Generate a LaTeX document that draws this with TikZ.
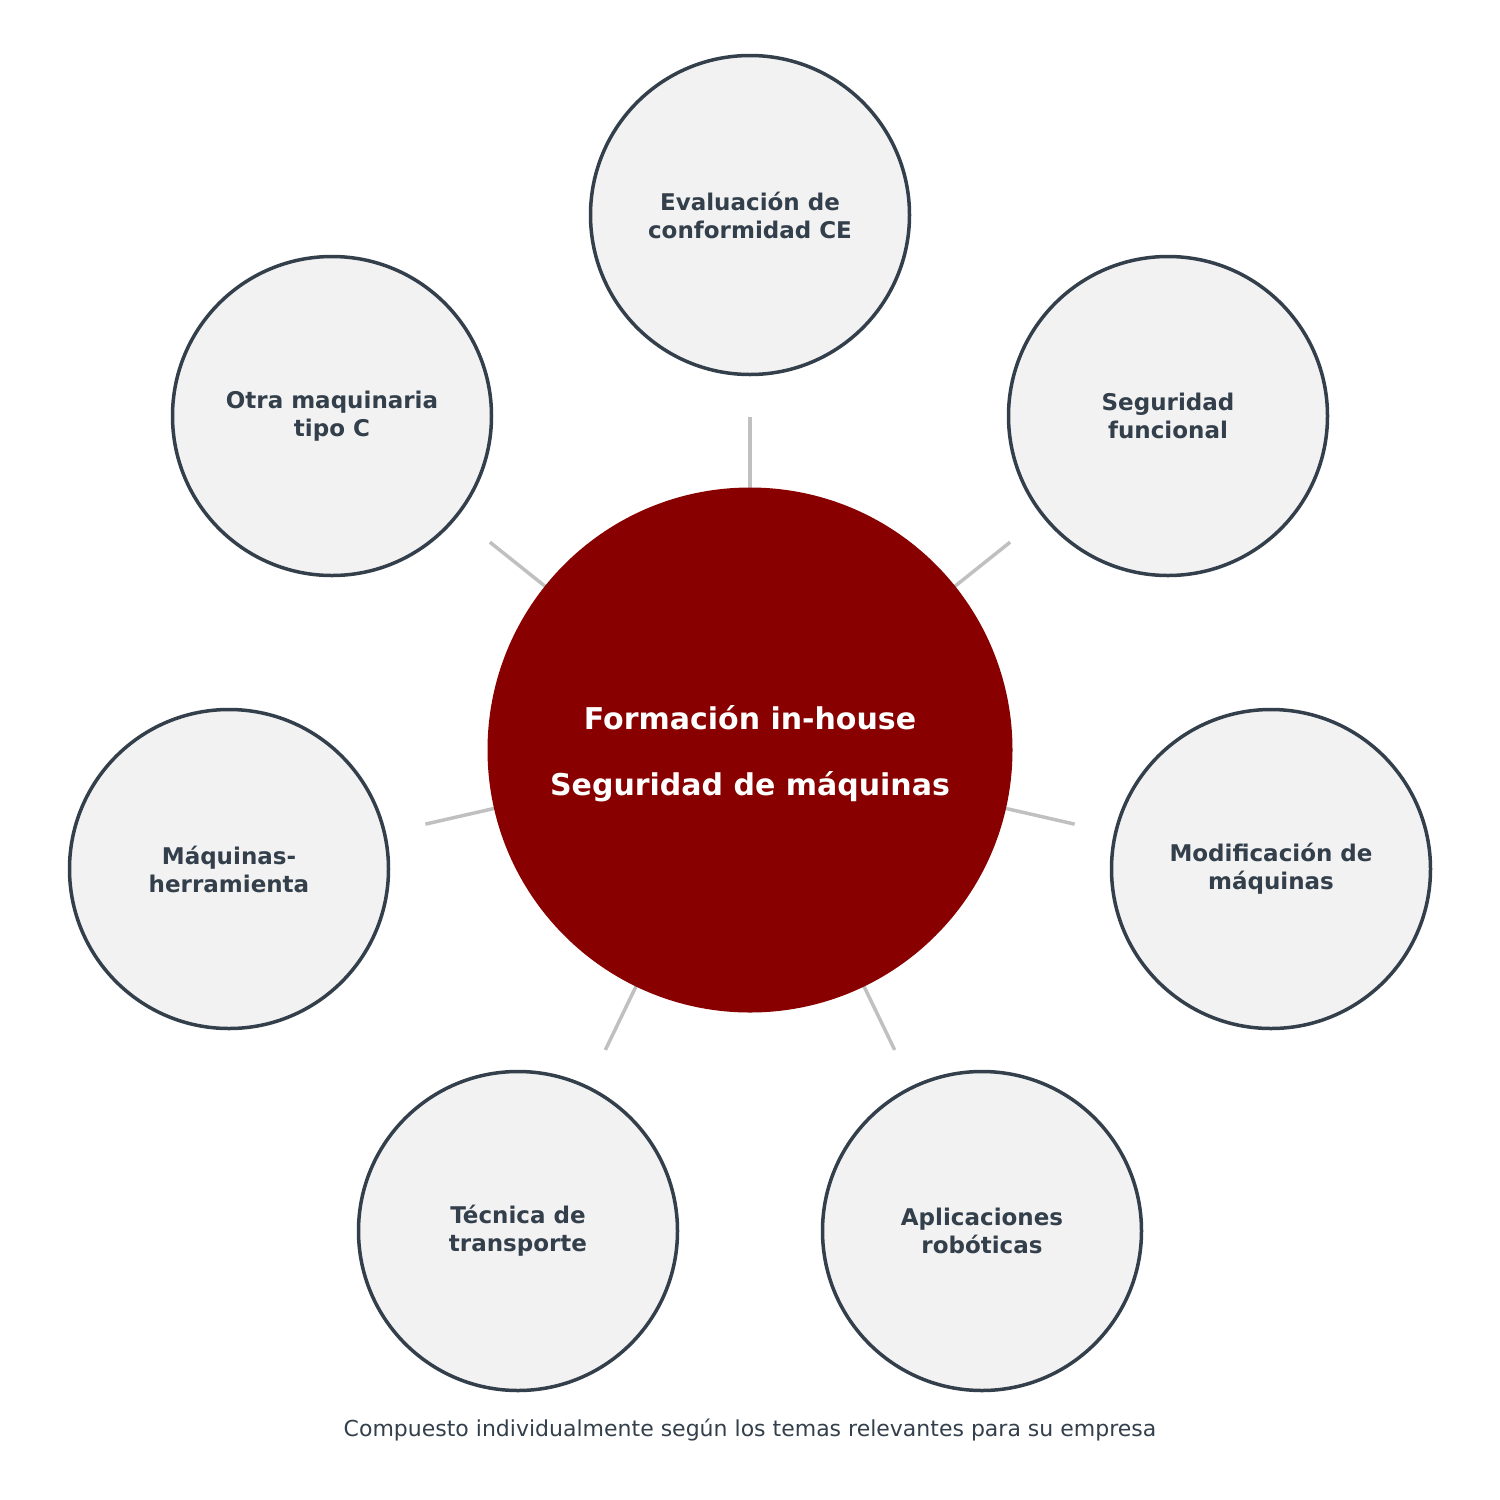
\documentclass[tikz,border=0pt]{standalone}
\usepackage{fontspec}
\setmainfont{DejaVu Sans}
\usetikzlibrary{calc}
\begin{document}
\begin{tikzpicture}[x=1pt,y=-1pt,
  outer/.style={circle,draw=dark,line width=3.5pt,fill=light,minimum size=319pt,inner sep=0pt,align=center,text=dark,font=\fontsize{23}{28}\selectfont\bfseries},
  conn/.style={draw=conn,line width=3.5pt}]
\definecolor{dark}{HTML}{333F4B}
\definecolor{light}{HTML}{F2F2F2}
\definecolor{conn}{HTML}{C0C0C0}
\definecolor{red}{HTML}{880000}
\useasboundingbox (0,0) rectangle (1500,1500);
\coordinate (c) at (750,750);
\foreach \n/\x/\y in {a/750/215,b/1168/416,d/1271/869,e/982/1231,f/518/1231,g/229/869,h/332/416}{
  \coordinate (p\n) at (\x,\y);
  \draw[conn] ($(c)!250pt!(p\n)$) -- ($(c)!333pt!(p\n)$);
}
\node[circle,fill=red,minimum size=525pt,inner sep=0pt] (center) at (c) {};
\node[text=white,font=\fontsize{30}{36}\selectfont\bfseries] (t1) at (750,718) {Formación in-house};
\node[text=white,font=\fontsize{30}{36}\selectfont\bfseries] (t2) at (750,787) {Seguridad de máquinas};
\node[outer] (a) at (pa) {Evaluación de\\conformidad CE};
\node[outer] (b) at (pb) {Seguridad\\funcional};
\node[outer] (d) at (pd) {Modificación de\\máquinas};
\node[outer] (e) at (pe) {Aplicaciones\\robóticas};
\node[outer] (f) at (pf) {Técnica de\\transporte};
\node[outer] (g) at (pg) {Máquinas-\\herramienta};
\node[outer] (h) at (ph) {Otra maquinaria\\tipo C};
\node[text=dark,font=\fontsize{22}{26}\selectfont] (cap) at (750,1430) {Compuesto individualmente según los temas relevantes para su empresa};
\end{tikzpicture}
\end{document}
